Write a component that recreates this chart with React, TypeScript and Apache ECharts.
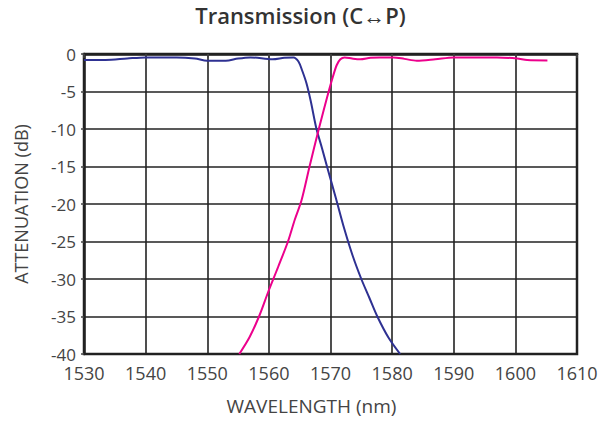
import React, { useEffect, useRef } from "react";
import * as echarts from "echarts";

const titleText = "Transmission (C\u2194P)";
const xTicks = [1530, 1540, 1550, 1560, 1570, 1580, 1590, 1600, 1610];
const yTicks = [0, -5, -10, -15, -20, -25, -30, -35, -40];

const cWavelength = [1530, 1533.5, 1537, 1540, 1545, 1548, 1550, 1553, 1555, 1557, 1560.6, 1562.5, 1564, 1564.8, 1565.4, 1566.1, 1566.8, 1567.7, 1568.6, 1569.5, 1570.9, 1572.2, 1573.6, 1575.0, 1576.3, 1577.6, 1579.4, 1581.3];
const cAttenuation = [-0.8, -0.8, -0.6, -0.45, -0.45, -0.6, -0.9, -0.9, -0.6, -0.45, -0.7, -0.5, -0.45, -1.0, -2.2, -3.9, -6.3, -9.9, -12.5, -15.2, -19.3, -23.2, -26.9, -30.0, -32.5, -35.0, -37.8, -40];

const pWavelength = [1555.2, 1556.9, 1558.5, 1559.9, 1561.5, 1563.1, 1564.2, 1565.3, 1566.6, 1568.1, 1569.7, 1570.4, 1571, 1571.6, 1572.3, 1573.5, 1574.8, 1576.5, 1578, 1580.2, 1582, 1584, 1587, 1590, 1594, 1597, 1600.3, 1601.9, 1605.2];
const pAttenuation = [-40, -37.7, -34.8, -31.7, -28.4, -25, -22.1, -19.5, -15, -10, -5, -3, -1.5, -0.7, -0.45, -0.6, -0.7, -0.5, -0.45, -0.45, -0.65, -0.9, -0.7, -0.45, -0.45, -0.45, -0.6, -0.8, -0.85];

const zip = (xs: number[], ys: number[]) => xs.map((x, i) => [x, ys[i]]);

export default function App() {
  const ref = useRef<HTMLDivElement>(null);
  useEffect(() => {
    document.body.style.margin = "0";
    if (!ref.current) return;
    const chart = echarts.init(ref.current, undefined, { renderer: "svg" });
    const font = "'Open Sans', sans-serif";
    const labelColor = "#444";
    chart.setOption({
      animation: false,
      backgroundColor: "#fff",
      title: {
        text: titleText,
        left: "center",
        top: 4,
        padding: 0,
        textStyle: { fontFamily: font, fontSize: 22, fontWeight: 600, color: "#333" },
      },
      grid: {
        left: 84,
        right: 24,
        top: 54,
        bottom: 67,
        show: true,
        borderColor: "#222",
        borderWidth: 2.5,
        containLabel: false,
      },
      xAxis: {
        type: "value",
        min: xTicks[0],
        max: xTicks[xTicks.length - 1],
        interval: 10,
        name: "WAVELENGTH (nm)",
        nameLocation: "middle",
        nameGap: 42,
        nameTextStyle: { fontFamily: font, fontSize: 19, color: labelColor, padding: [0, 38, 0, 0] },
        axisLine: { show: true, lineStyle: { color: "#222", width: 2.5 } },
        axisTick: { show: true, length: 4, lineStyle: { color: "#444", width: 1.5 } },
        axisLabel: { fontFamily: font, fontSize: 18, color: labelColor, margin: 10, formatter: (v: number) => String(v) },
        splitLine: { show: true, lineStyle: { color: "#222", width: 1.6 } },
      },
      yAxis: {
        type: "value",
        min: yTicks[yTicks.length - 1],
        max: yTicks[0],
        interval: 5,
        name: "ATTENUATION (dB)",
        nameLocation: "middle",
        nameGap: 54,
        nameTextStyle: { fontFamily: font, fontSize: 18, color: labelColor },
        axisLine: { show: true, lineStyle: { color: "#222", width: 2.5 } },
        axisTick: { show: true, length: 3, lineStyle: { color: "#444", width: 1.5 } },
        axisLabel: { fontFamily: font, fontSize: 17, color: labelColor, margin: 8, formatter: (v: number) => String(v) },
        splitLine: { show: true, lineStyle: { color: "#222", width: 1.6 } },
      },
      series: [
        {
          name: "C",
          type: "line",
          data: zip(cWavelength, cAttenuation),
          smooth: 0.3,
          showSymbol: false,
          lineStyle: { color: "#2e3192", width: 2 },
          itemStyle: { color: "#2e3192" },
          z: 3,
        },
        {
          name: "P",
          type: "line",
          data: zip(pWavelength, pAttenuation),
          smooth: 0.3,
          showSymbol: false,
          lineStyle: { color: "#ec008c", width: 2 },
          itemStyle: { color: "#ec008c" },
          z: 3,
        },
      ],
    });
    return () => chart.dispose();
  }, []);
  return <div ref={ref} style={{ width: 601, height: 421 }} />;
}
